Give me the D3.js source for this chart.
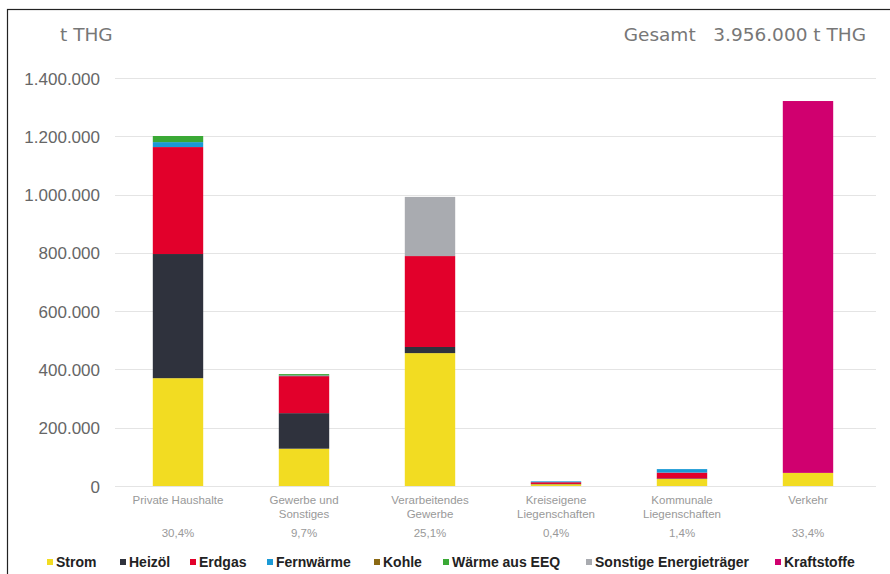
<!DOCTYPE html>
<html lang="de">
<head>
<meta charset="utf-8">
<title>THG nach Sektoren</title>
<style>
  body { margin: 0; background: #fff; }
  svg { display: block; font-family: "Liberation Sans", Arial, sans-serif; }
</style>
</head>
<body>
<svg id="chart" width="890" height="574"></svg>
<script src="https://d3js.org/d3.v7.min.js"></script>
<script>
// Sektoren (Achsenbeschriftung, zweizeilig) und Anteile
var sektoren = ["Private Haushalte", "Gewerbe und Sonstiges", "Verarbeitendes Gewerbe",
                "Kreiseigene Liegenschaften", "Kommunale Liegenschaften", "Verkehr"];
var zeilen = [["Private Haushalte"], ["Gewerbe und", "Sonstiges"], ["Verarbeitendes", "Gewerbe"],
              ["Kreiseigene", "Liegenschaften"], ["Kommunale", "Liegenschaften"], ["Verkehr"]];
var anteile = ["30,4%", "9,7%", "25,1%", "0,4%", "1,4%", "33,4%"];

// Energieträger und Farben
var traeger = ["Strom", "Heizöl", "Erdgas", "Fernwärme", "Kohle", "Wärme aus EEQ",
               "Sonstige Energieträger", "Kraftstoffe"];
var farben = ["#f2dc22", "#2f323d", "#e2002b", "#1b9ad6", "#8b6914", "#3aa935", "#a9abb0", "#d0006f"];

// Werte in t THG je Energieträger (Reihenfolge wie sektoren)
var strom       = [370000, 128000, 456000, 6000, 24000, 45000];
var heizoel     = [426000, 122000, 21000, 1000, 2000, 0];
var erdgas      = [367000, 127000, 312000, 6000, 20000, 0];
var fernwaerme  = [17000, 2000, 0, 3000, 12000, 0];
var kohle       = [0, 1000, 0, 0, 0, 0];
var waermeEEQ   = [21000, 4000, 0, 0, 0, 0];
var sonstige    = [0, 0, 203000, 0, 0, 0];
var kraftstoffe = [0, 0, 0, 0, 0, 1276000];

var yTicks = [0, 200000, 400000, 600000, 800000, 1000000, 1200000, 1400000];
var gesamtText = "Gesamt   3.956.000 t THG";

var reihen = [strom, heizoel, erdgas, fernwaerme, kohle, waermeEEQ, sonstige, kraftstoffe];
var tabelle = sektoren.map(function(s, i) {
  var o = { sektor: s };
  traeger.forEach(function(t, j) { o[t] = reihen[j][i]; });
  return o;
});

var svg = d3.select("#chart");

// Rahmen
svg.append("rect")
  .attr("x", 7.5).attr("y", 9.5).attr("width", 890).attr("height", 580)
  .attr("fill", "none").attr("stroke", "#222").attr("stroke-width", 1.2);

var x = d3.scaleBand().domain(sektoren).range([115, 871]).paddingInner(0.6).paddingOuter(0.3);
var y = d3.scaleLinear().domain([0, 1400000]).range([486, 78]);
var fmt = function(v) { return d3.format(",")(v).replace(/,/g, "."); };

// Gitterlinien
svg.append("g").selectAll("line")
  .data(yTicks).enter().append("line")
  .attr("x1", 115).attr("x2", 876)
  .attr("y1", function(d) { return Math.round(y(d)) + 0.5; })
  .attr("y2", function(d) { return Math.round(y(d)) + 0.5; })
  .attr("stroke", "#e4e4e4").attr("stroke-width", 1);

// y-Achse
var yAxis = svg.append("g").attr("transform", "translate(100,0)")
  .call(d3.axisLeft(y).tickValues(yTicks).tickFormat(fmt).tickSize(0).tickPadding(0));
yAxis.select(".domain").remove();
yAxis.selectAll("text").attr("fill", "#666").attr("font-size", "17px").attr("dy", "0.36em");

// Balken
var stack = d3.stack().keys(traeger)(tabelle);
svg.append("g").selectAll("g")
  .data(stack).enter().append("g")
  .attr("fill", function(d, i) { return farben[i]; })
  .selectAll("rect")
  .data(function(d) { return d; }).enter().append("rect")
  .attr("x", function(d) { return x(d.data.sektor); })
  .attr("width", x.bandwidth())
  .attr("y", function(d) { return y(d[1]); })
  .attr("height", function(d) { return y(d[0]) - y(d[1]); });

// Kategorienbeschriftung
var cat = svg.append("g").selectAll("g")
  .data(sektoren).enter().append("g")
  .attr("transform", function(d) { return "translate(" + (x(d) + x.bandwidth() / 2) + ",0)"; });
cat.each(function(d, i) {
  var g = d3.select(this);
  zeilen[i].forEach(function(z, k) {
    g.append("text").attr("y", 504 + k * 14).attr("text-anchor", "middle")
      .attr("fill", "#999").attr("font-size", "11.5px").text(z);
  });
  g.append("text").attr("y", 537).attr("text-anchor", "middle")
    .attr("fill", "#999").attr("font-size", "11.5px").text(anteile[i]);
});

// Titel
svg.append("text").attr("x", 60).attr("y", 41).attr("fill", "#777")
  .attr("font-family", "'DejaVu Sans', sans-serif")
  .attr("font-size", "18.5px").text("t THG");
svg.append("text").attr("x", 866).attr("y", 41).attr("text-anchor", "end")
  .attr("fill", "#777").attr("font-family", "'DejaVu Sans', sans-serif")
  .attr("font-size", "18.5px")
  .style("white-space", "pre").text(gesamtText);

// Legende
var legX = [47, 120, 190, 267, 374, 443, 586, 775];
var leg = svg.append("g").selectAll("g")
  .data(traeger).enter().append("g")
  .attr("transform", function(d, i) { return "translate(" + legX[i] + ",562)"; });
leg.append("rect").attr("x", 0).attr("y", -3).attr("width", 6).attr("height", 6)
  .attr("fill", function(d, i) { return farben[i]; });
leg.append("text").attr("x", 9).attr("dy", "0.36em").attr("fill", "#222")
  .attr("font-size", "14px").attr("font-weight", "bold").text(function(d) { return d; });
</script>
</body>
</html>
